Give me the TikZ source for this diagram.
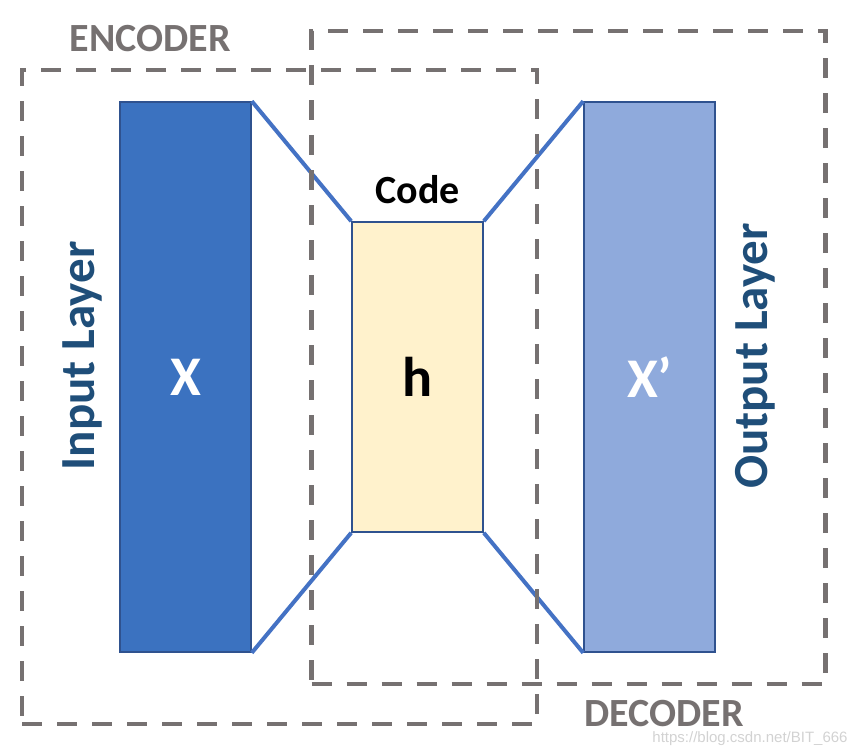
\documentclass[tikz,border=0pt]{standalone}
\usepackage{fontspec}
\setmainfont{Carlito}
\newfontfamily\markfont{Liberation Sans}
\definecolor{inputblue}{HTML}{3B72C0}
\definecolor{outputblue}{HTML}{8FAADC}
\definecolor{codecream}{HTML}{FFF2CC}
\definecolor{edgeblue}{HTML}{2F528F}
\definecolor{linkblue}{HTML}{4472C4}
\definecolor{titleteal}{HTML}{1F4E79}
\definecolor{framegray}{HTML}{767171}

\begin{document}
\begin{tikzpicture}[x=1pt, y=-1pt,
            layer/.style = {rectangle, draw=edgeblue, line width=1.6pt, minimum width=131pt, inner sep=0pt},
            input/.style = {layer, fill=inputblue, minimum height=550pt, text=white},
            output/.style = {layer, fill=outputblue, minimum height=550pt, text=white},
            code/.style = {layer, fill=codecream, minimum height=310pt, text=black},
            region/.style = {rectangle, draw=framegray, line width=4.5pt, dash pattern=on 20pt off 15pt, inner sep=0pt},
            link/.style = {linkblue, line width=4pt},
            big/.style = {font=\fontsize{56}{60}\selectfont\bfseries},
            side/.style = {font=\fontsize{49}{54}\selectfont\bfseries, text=titleteal, rotate=90, anchor=base},
            caption/.style = {font=\fontsize{40}{46}\selectfont\bfseries},
            ]
            \useasboundingbox (0,0) rectangle (862,752);

            \node[input, big]   (X)  at (185.5, 377) {X};
            \node[code, big]    (H)  at (417.5, 377) {h};
            \node[output, big]  (XR) at (649.5, 377) {X’};

            \node[side] (IN)  at (94, 356) {Input Layer};
            \node[side] (OUT) at (767, 356) {Output Layer};

            \node[caption]                   (CD)  at (417.5, 190) {Code};
            \node[caption, text=framegray]   (ENC) at (150, 38.5) {ENCODER};
            \node[caption, text=framegray]   (DEC) at (664, 714) {DECODER};

            \node[text=gray!35, font=\markfont\fontsize{15}{17}\selectfont] (WM) at (750, 739) {https://blog.csdn.net/BIT\_666};

            \draw[link]
                (X.north east) -- (H.north west)
                (X.south east) -- (H.south west)
                (H.north east) -- (XR.north west)
                (H.south east) -- (XR.south west);

            \node[region, minimum width=515pt, minimum height=654pt] (EBOX) at (279.5, 397) {};
            \node[region, minimum width=514pt, minimum height=653pt] (DBOX) at (568.5, 357.5) {};

        \end{tikzpicture}
\end{document}
